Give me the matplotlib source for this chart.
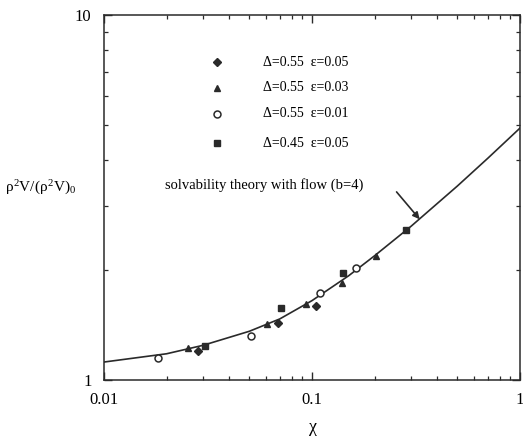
import matplotlib
matplotlib.use('Agg')
import matplotlib.pyplot as plt
from matplotlib.ticker import NullFormatter

# Data
theory_x = [0.01, 0.02, 0.03, 0.05, 0.07, 0.1, 0.15, 0.2, 0.3, 0.5, 0.7, 1.0]
theory_y = [1.12, 1.18, 1.245, 1.36, 1.47, 1.65, 1.93, 2.19, 2.64, 3.40, 4.05, 4.90]

diamond_x = [0.0282, 0.0684, 0.104]
diamond_y = [1.20, 1.43, 1.59]
triangle_x = [0.0253, 0.0605, 0.094, 0.139, 0.204]
triangle_y = [1.22, 1.42, 1.62, 1.84, 2.19]
circle_x = [0.0181, 0.0507, 0.109, 0.163]
circle_y = [1.15, 1.32, 1.73, 2.03]
square_x = [0.0305, 0.0706, 0.141, 0.284]
square_y = [1.24, 1.57, 1.96, 2.58]

legend_labels = ['Δ=0.55  ε=0.05', 'Δ=0.55  ε=0.03', 'Δ=0.55  ε=0.01', 'Δ=0.45  ε=0.05']

plt.rcParams.update({'font.family': 'Liberation Serif', 'font.size': 11,
                     'mathtext.fontset': 'custom',
                     'mathtext.rm': 'Liberation Serif',
                     'mathtext.it': 'Liberation Serif'})

ink = '#2a2a2a'
fig = plt.figure(figsize=(5.23, 4.38), dpi=100)
ax = fig.add_axes([104 / 523, 58 / 438, 416 / 523, 365 / 438])

ax.plot(theory_x, theory_y, color=ink, lw=1.2)

ax.plot(diamond_x, diamond_y, 'D', ms=4, color=ink, ls='none')
ax.plot(triangle_x, triangle_y, '^', ms=5, color=ink, ls='none')
ax.plot(circle_x, circle_y, 'o', ms=5, mfc='white', mec=ink, mew=1.1, ls='none')
ax.plot(square_x, square_y, 's', ms=5, color=ink, ls='none')

ax.set_xscale('log')
ax.set_yscale('log')
ax.set_xlim(0.01, 1)
ax.set_ylim(1, 10)
ax.set_xticks([0.01, 0.1, 1], ['0.01', '0.1', '1'])
ax.set_yticks([1, 10], ['1', '10'])
ax.xaxis.set_minor_formatter(NullFormatter())
ax.yaxis.set_minor_formatter(NullFormatter())

for s in ax.spines.values():
    s.set_linewidth(1.1)
    s.set_color(ink)
ax.tick_params(which='both', direction='in', top=True, right=True, color=ink)
ax.tick_params(which='major', length=6, width=1.0, pad=9, labelsize=12)
ax.tick_params(which='minor', length=3, width=0.9)

# Manual legend
legend_markers = [dict(marker='D', ms=4, color=ink),
                  dict(marker='^', ms=5, color=ink),
                  dict(marker='o', ms=5, mfc='white', mec=ink, mew=1.1),
                  dict(marker='s', ms=5, color=ink)]
rows = [0.871, 0.80, 0.729, 0.649]
for yy, m, lab in zip(rows, legend_markers, legend_labels):
    ax.plot([0.272], [yy], transform=ax.transAxes, ls='none', **m)
    ax.text(0.382, yy, lab, transform=ax.transAxes, va='center', ha='left', fontsize=10)

# Annotation
ax.text(0.0196, 3.42, 'solvability theory with flow (b=4)', fontsize=10.5, va='center', ha='left')
ax.annotate('', xy=(0.336, 2.72), xytext=(0.25, 3.32),
            arrowprops=dict(arrowstyle='-|>', color=ink, lw=1.2, mutation_scale=10))

fig.text(5 / 523, 1 - 188 / 438, r'$\rho^2V/(\rho^2V)_0$', ha='left', va='center', fontsize=11)
fig.text(313 / 523, 1 - 429 / 438, r'$\chi$', ha='center', va='center', fontsize=13)

fig.savefig('out.png', dpi=100)
